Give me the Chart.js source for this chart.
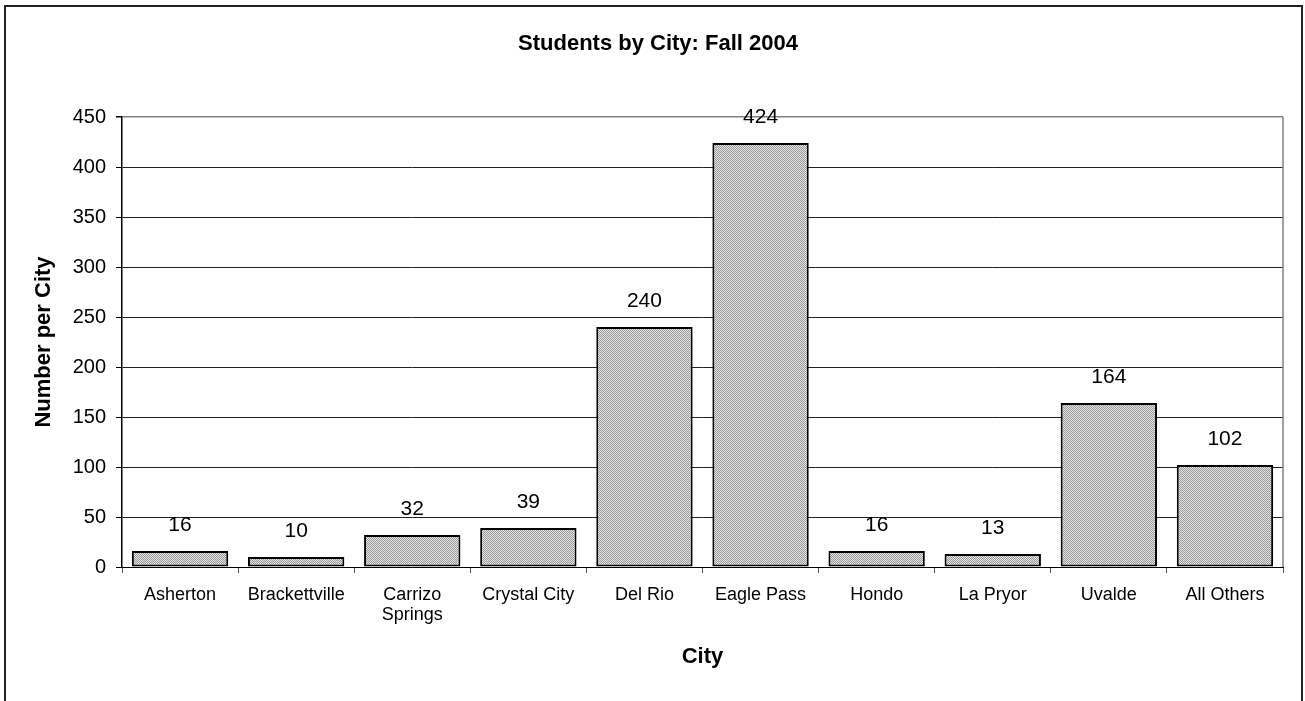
<!DOCTYPE html>
<html lang="en">
<head>
    <meta charset="UTF-8">
    <title>Students by City: Fall 2004</title>
    <style>
        body {
            margin: 0;
            background-color: #fff;
        }

        #chartBox {
            width: 1305px;
            height: 701px;
        }
    </style>
    <script src="https://cdn.jsdelivr.net/npm/chart.js"></script>
</head>
<body>
    <div id="chartBox">
        <canvas id="cityChart"></canvas>
    </div>

    <script>
        // Chart data
        var cities = ['Asherton', 'Brackettville', ['Carrizo', 'Springs'], 'Crystal City', 'Del Rio',
                      'Eagle Pass', 'Hondo', 'La Pryor', 'Uvalde', 'All Others'];
        var students = [16, 10, 32, 39, 240, 424, 16, 13, 164, 102];
        var yTicks = [0, 50, 100, 150, 200, 250, 300, 350, 400, 450];

        var fontName = 'Arial, "Liberation Sans", sans-serif';

        // Fine grey dot pattern for the bars
        function makePattern() {
            var c = document.createElement('canvas');
            c.width = 2;
            c.height = 2;
            var g = c.getContext('2d');
            g.fillStyle = '#e4e4e4';
            g.fillRect(0, 0, 2, 2);
            g.fillStyle = '#999999';
            g.fillRect(0, 0, 1, 1);
            g.fillRect(1, 1, 1, 1);
            return g.createPattern(c, 'repeat');
        }

        // Outer frame and right edge of the plot area
        var framePlugin = {
            id: 'frame',
            afterDraw: function (chart) {
                var ctx = chart.ctx;
                var area = chart.chartArea;
                ctx.save();
                ctx.strokeStyle = '#808080';
                ctx.lineWidth = 1.5;
                ctx.beginPath();
                ctx.moveTo(area.right, area.top);
                ctx.lineTo(area.right, area.bottom);
                ctx.stroke();
                ctx.strokeStyle = '#222';
                ctx.lineWidth = 2;
                ctx.strokeRect(5, 6, 1297, 720);
                ctx.restore();
            }
        };

        // Value labels above each bar
        var valueLabels = {
            id: 'valueLabels',
            afterDatasetsDraw: function (chart) {
                var ctx = chart.ctx;
                var meta = chart.getDatasetMeta(0);
                ctx.save();
                ctx.font = '21px ' + fontName;
                ctx.fillStyle = '#000';
                ctx.textAlign = 'center';
                ctx.textBaseline = 'middle';
                meta.data.forEach(function (bar, i) {
                    ctx.fillText(students[i], bar.x, bar.y - 26);
                });
                ctx.restore();
            }
        };

        var ctx = document.getElementById('cityChart').getContext('2d');
        var cityChart = new Chart(ctx, {
            type: 'bar',
            data: {
                labels: cities,
                datasets: [{
                    label: 'Students',
                    data: students,
                    backgroundColor: makePattern(),
                    borderColor: '#000',
                    borderWidth: 2,
                    borderSkipped: false,
                    barPercentage: 0.83,
                    categoryPercentage: 1
                }]
            },
            options: {
                responsive: true,
                maintainAspectRatio: false,
                animation: false,
                layout: {
                    // left padding shifts the title centre to match the original
                    padding: { top: 0, right: 22, bottom: 0, left: 33 }
                },
                plugins: {
                    legend: { display: false },
                    tooltip: { enabled: false },
                    title: {
                        display: true,
                        text: 'Students by City: Fall 2004',
                        color: '#000',
                        font: { family: fontName, size: 22, weight: 'bold' },
                        padding: { top: 31, bottom: 59.6 }
                    }
                },
                scales: {
                    x: {
                        afterFit: function (scale) { scale.height = 134; },
                        grid: {
                            offset: true,
                            drawOnChartArea: false,
                            drawTicks: true,
                            tickLength: 6,
                            tickColor: '#555'
                        },
                        border: { color: '#000', width: 1 },
                        ticks: {
                            color: '#000',
                            font: { family: fontName, size: 18, lineHeight: 1.1 },
                            padding: 12,
                            maxRotation: 0,
                            autoSkip: false
                        },
                        title: {
                            display: true,
                            text: 'City',
                            color: '#000',
                            font: { family: fontName, size: 22, weight: 'bold' },
                            padding: { top: 0, bottom: 31 }
                        }
                    },
                    y: {
                        min: 0,
                        max: 450,
                        afterFit: function (scale) { scale.width = 89; },
                        afterBuildTicks: function (scale) {
                            scale.ticks = yTicks.map(function (v) { return { value: v }; });
                        },
                        grid: {
                            color: function (c) { return c.tick && c.tick.value === 450 ? '#808080' : '#222'; },
                            lineWidth: function (c) { return c.tick && c.tick.value === 450 ? 1.5 : 1; },
                            tickColor: '#000',
                            tickLength: 6
                        },
                        border: { color: '#000', width: 1.5 },
                        ticks: {
                            color: '#000',
                            font: { family: fontName, size: 20 },
                            padding: 10
                        },
                        title: {
                            display: true,
                            text: 'Number per City',
                            color: '#000',
                            font: { family: fontName, size: 22, weight: 'bold' },
                            padding: { top: -2, bottom: 0 }
                        }
                    }
                }
            },
            plugins: [framePlugin, valueLabels]
        });
    </script>
</body>
</html>
